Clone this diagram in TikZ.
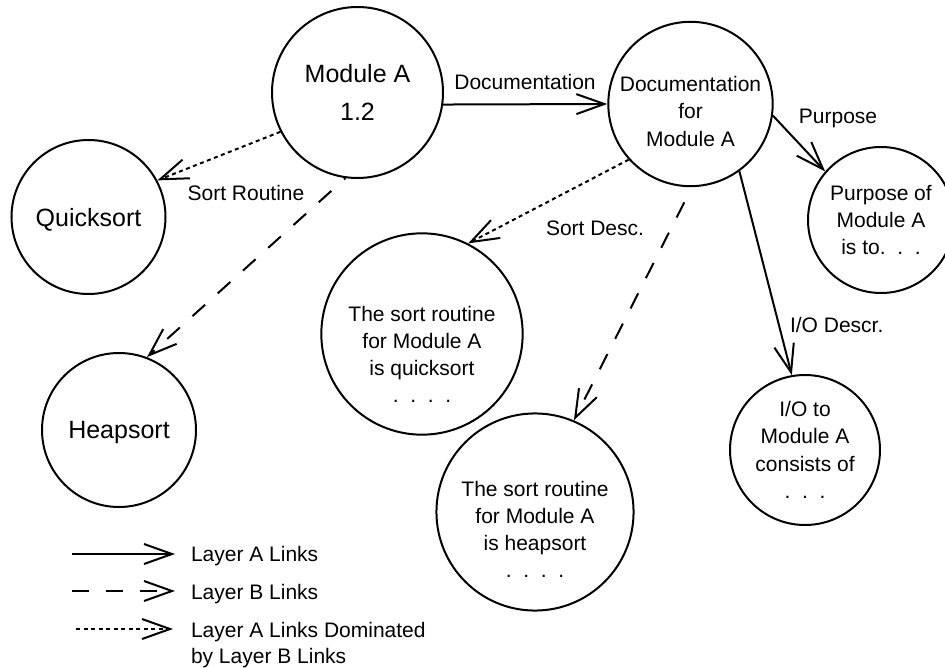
\documentclass[tikz,border=0pt]{standalone}
\usepackage{fontspec}
\setmainfont{Liberation Sans}
\usetikzlibrary{arrows.meta}

\begin{document}
\begin{tikzpicture}[x=1pt, y=-1pt, line width=2pt,
    >={Straight Barb[length=28pt, width=20pt]},
    big/.style={draw, circle, inner sep=0pt, align=center, font=\fontsize{25}{38.4}\selectfont, text depth=0pt},
    small/.style={draw, circle, inner sep=0pt, align=center, font=\fontsize{21}{27.3}\selectfont},
    lbl/.style={inner sep=0pt, font=\fontsize{21}{26}\selectfont},
    layerb/.style={dash pattern=on 17pt off 17pt},
    dom/.style={dash pattern=on 4pt off 3.5pt}]
    \useasboundingbox (0, 0) rectangle (945, 668);

    \node[big, minimum size=171pt] (A) at (357.5, 92.5) {Module A\\1.2};
    \node[big, minimum size=154pt] (B) at (88.5, 217) {Quicksort};
    \node[big, minimum size=154pt] (C) at (119, 430) {Heapsort};
    \node[small, minimum size=157pt] (D) at (690.5, 104) {\rule{0pt}{30pt}Documentation\\for\\Module A};
    \node[small, minimum size=146pt] (E) at (881, 220) {Purpose of\\Module A\\is to.\ \ .\ \ .};
    \node[small, minimum size=172pt] (F) at (422, 334) {\rule{0pt}{56pt}The sort routine\\for Module A\\is quicksort\\.\ \ .\ \ .\ \ .};
    \node[small, minimum size=168pt] (G) at (535, 512) {\rule{0pt}{50pt}The sort routine\\for Module A\\is heapsort\\.\ \ .\ \ .\ \ .};
    \node[small, minimum size=150pt] (H) at (805, 450) {I/O to\\Module A\\consists of\\.\ \ .\ \ .};

    \node[lbl, anchor=base] (Ad) at (525, 89.5) {Documentation};
    \node[lbl, anchor=base] (De) at (838, 124) {Purpose};
    \node[lbl, anchor=base] (Ab) at (246, 200.7) {Sort Routine};
    \node[lbl, anchor=base west] (Df) at (545, 236) {Sort Desc.};
    \node[lbl, anchor=base west] (Dh) at (789, 333) {I/O Descr.};

    \draw[->] (A.-8) -- (D.west);
    \draw[->] (D.-8) -- (E.139);
    \draw[->] (D.-54) -- (H.100);
    \draw[->, dom] (D.222) -- (F.63);
    \draw[->, layerb, dash phase=17pt] (D.-89) -- (G.67);
    \draw[->, dom] (A.207) -- (B.28);
    \draw[->, layerb, dash phase=15pt] (A.262) -- (C.69);

    \coordinate (la) at (72, 554);
    \coordinate (lb) at (72, 591);
    \coordinate (lc) at (76, 629);
    \coordinate (la') at (175, 554);
    \coordinate (lb') at (175, 591);
    \coordinate (lc') at (173, 629);
    \draw[->] (la) -- (la');
    \draw[->, layerb] (lb) -- (lb');
    \draw[->, dom] (lc) -- (lc');
    \node[lbl, anchor=base west] (lai) at (190, 561.7) {Layer A Links};
    \node[lbl, anchor=base west] (lbi) at (190, 599.5) {Layer B Links};
    \node[lbl, anchor=base west, align=left] (lci) at (190, 663) {Layer A Links Dominated\\by Layer B Links};
\end{tikzpicture}
\end{document}
